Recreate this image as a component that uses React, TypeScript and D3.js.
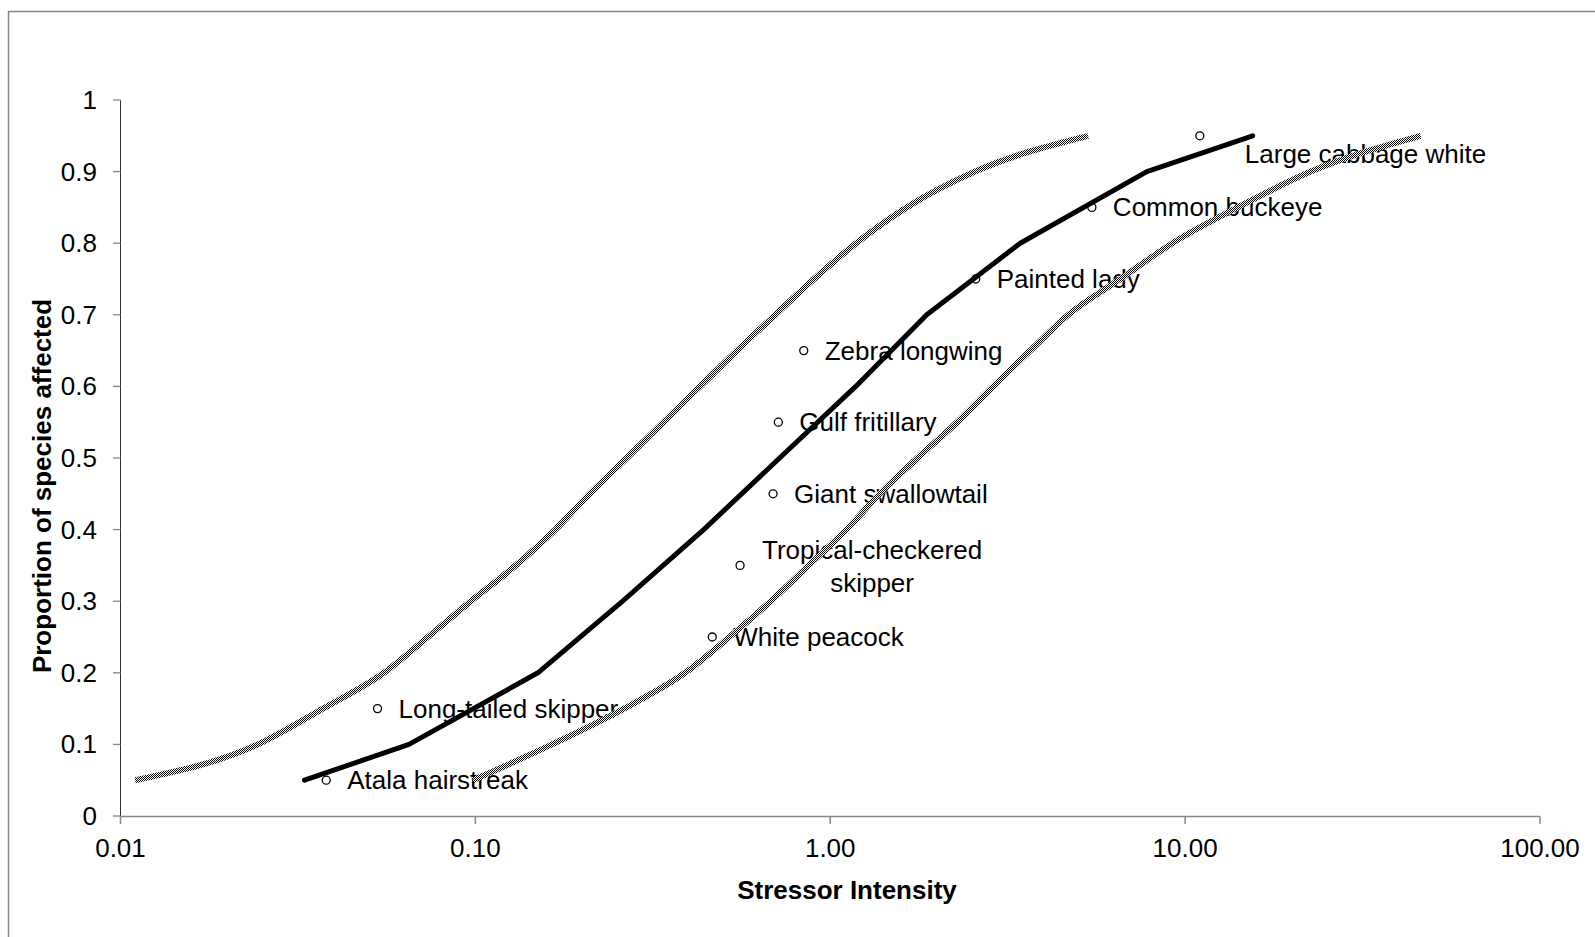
import React from "react";
import * as d3 from "d3";

// Species sensitivity points
const speciesNames = [
  "Atala hairstreak",
  "Long-tailed skipper",
  "White peacock",
  "Tropical-checkered skipper",
  "Giant swallowtail",
  "Gulf fritillary",
  "Zebra longwing",
  "Painted lady",
  "Common buckeye",
  "Large cabbage white",
];
const speciesIntensity = [0.038, 0.053, 0.465, 0.557, 0.69, 0.714, 0.842, 2.57, 5.46, 11.0];
const speciesProportion = [0.05, 0.15, 0.25, 0.35, 0.45, 0.55, 0.65, 0.75, 0.85, 0.95];

// Fitted species sensitivity distribution
const fitIntensity = [0.033, 0.065, 0.15, 0.26, 0.44, 0.72, 1.18, 1.87, 3.43, 7.8, 15.5];
const fitProportion = [0.05, 0.1, 0.2, 0.3, 0.4, 0.5, 0.6, 0.7, 0.8, 0.9, 0.95];

// Confidence bounds
const boundProportion = [
  0.05, 0.1, 0.15, 0.2, 0.25, 0.3, 0.35, 0.4, 0.45, 0.5,
  0.55, 0.6, 0.65, 0.7, 0.75, 0.8, 0.85, 0.9, 0.95,
];
const lowerBoundIntensity = [
  0.011, 0.0244, 0.0372, 0.0553, 0.0735, 0.0972, 0.13, 0.168, 0.21, 0.267,
  0.339, 0.43, 0.546, 0.7, 0.9, 1.184, 1.643, 2.559, 5.33,
];
const upperBoundIntensity = [
  0.0985, 0.1644, 0.2624, 0.39, 0.52, 0.68, 0.87, 1.11, 1.38, 1.76,
  2.279, 2.88, 3.66, 4.69, 6.57, 9.21, 14.06, 22.6, 46.1,
];

// Axis ticks
const xTicks = [0.01, 0.1, 1, 10, 100];
const yTicks = [0, 0.1, 0.2, 0.3, 0.4, 0.5, 0.6, 0.7, 0.8, 0.9, 1];

const W = 1595;
const H = 937;
const FONT = "'Liberation Sans', Arial, Helvetica, sans-serif";

export default function App() {
  const x = d3.scaleLog().domain([0.01, 100]).range([120.5, 1540]);
  const y = d3.scaleLinear().domain([0, 1]).range([816, 100]);

  const line = d3
    .line<[number, number]>()
    .x((d) => x(d[0]))
    .y((d) => y(d[1]));
  const smooth = d3
    .line<[number, number]>()
    .x((d) => x(d[0]))
    .y((d) => y(d[1]))
    .curve(d3.curveMonotoneX);

  const fitPts = fitIntensity.map((v, i) => [v, fitProportion[i]] as [number, number]);
  const lowPts = lowerBoundIntensity.map((v, i) => [v, boundProportion[i]] as [number, number]);
  const upPts = upperBoundIntensity.map((v, i) => [v, boundProportion[i]] as [number, number]);

  const axisGray = "#868686";

  return (
    <svg
      width={W}
      height={H}
      style={{ position: "absolute", left: 0, top: 0, display: "block" }}
      fontFamily={FONT}
    >
      <defs>
        <pattern id="checker" width="2" height="2" patternUnits="userSpaceOnUse">
          <rect width="2" height="2" fill="#fff" />
          <rect x="0" y="0" width="1" height="1" fill="#000" />
          <rect x="1" y="1" width="1" height="1" fill="#000" />
        </pattern>
      </defs>

      {/* chart area */}
      <rect x={0} y={0} width={W} height={H} fill="#fff" />
      <rect x={8.5} y={11.5} width={1700} height={1000} fill="#fff" stroke={axisGray} strokeWidth={1.5} />

      {/* y axis */}
      <line x1={120.5} x2={120.5} y1={y(1)} y2={y(0)} stroke="#333" strokeWidth={1} />
      {yTicks.map((t) => (
        <g key={"y" + t}>
          <line x1={113} x2={120.5} y1={y(t)} y2={y(t)} stroke={axisGray} strokeWidth={1.3} />
          <text x={97} y={y(t) + 9} textAnchor="end" fontSize={26} fill="#000">
            {String(+t.toFixed(1))}
          </text>
        </g>
      ))}

      {/* x axis */}
      <line x1={x(0.01)} x2={x(100)} y1={816.5} y2={816.5} stroke={axisGray} strokeWidth={1.5} />
      {xTicks.map((t) => (
        <g key={"x" + t}>
          <line x1={x(t)} x2={x(t)} y1={816.5} y2={824} stroke={axisGray} strokeWidth={1.5} />
          <text x={x(t)} y={857} textAnchor="middle" fontSize={26} fill="#000">
            {t.toFixed(2)}
          </text>
        </g>
      ))}

      {/* axis titles */}
      <text x={847} y={899} textAnchor="middle" fontSize={26} fontWeight="bold" fill="#000">
        Stressor Intensity
      </text>
      <text
        transform="translate(51,486) rotate(-90)"
        textAnchor="middle"
        fontSize={26}
        fontWeight="bold"
        fill="#000"
      >
        Proportion of species affected
      </text>

      {/* species labels */}
      {speciesNames.map((name, i) => {
        const px = x(speciesIntensity[i]);
        const py = y(speciesProportion[i]);
        if (name === "Tropical-checkered skipper") {
          const cx = px + 21 + 111;
          return (
            <text key={name} fontSize={26} textAnchor="middle" fill="#000">
              <tspan x={cx} y={py - 6}>Tropical-checkered</tspan>
              <tspan x={cx} y={py + 26.5}>skipper</tspan>
            </text>
          );
        }
        const shifted = name === "Large cabbage white";
        return (
          <text
            key={name}
            x={px + (shifted ? 45 : 21)}
            y={py + (shifted ? 27.5 : 9)}
            fontSize={26}
            fill="#000"
          >
            {name}
          </text>
        );
      })}

      {/* confidence bounds */}
      <path d={smooth(lowPts) || ""} fill="none" stroke="url(#checker)" strokeWidth={6} />
      <path d={smooth(upPts) || ""} fill="none" stroke="url(#checker)" strokeWidth={6} />

      {/* fitted distribution */}
      <path
        d={line(fitPts) || ""}
        fill="none"
        stroke="#000"
        strokeWidth={5}
        strokeLinecap="round"
        strokeLinejoin="round"
      />

      {/* species points */}
      {speciesNames.map((name, i) => (
        <circle
          key={"c" + name}
          cx={x(speciesIntensity[i])}
          cy={y(speciesProportion[i])}
          r={4}
          fill="none"
          stroke="#000"
          strokeWidth={1.3}
        />
      ))}
    </svg>
  );
}
